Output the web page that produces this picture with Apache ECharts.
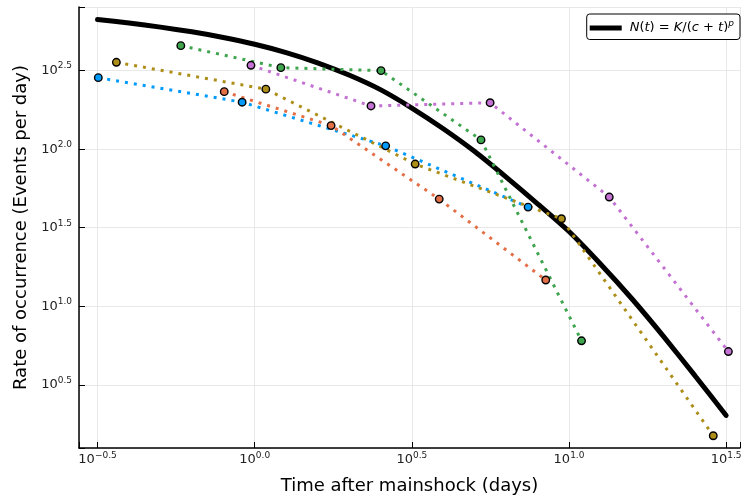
<!DOCTYPE html>
<html><head><meta charset="utf-8">
<script src="https://cdn.jsdelivr.net/npm/echarts@6/dist/echarts.min.js"></script>
<style>html,body{margin:0;padding:0;background:#fff}#c{width:741px;height:497px}</style>
</head><body><div id="c"></div>
<script>
// Omori-law fit curve
const curveT = [0.3162, 0.3981, 0.5012, 0.6310, 0.7943, 1.000, 1.259, 1.585, 1.995, 2.512, 3.162, 3.981, 5.012, 6.310, 7.943, 10.00, 12.59, 15.85, 19.95, 25.12, 31.62];
const curveN = [668.3, 635.3, 598.4, 558.5, 514.0, 465.6, 412.1, 354.8, 296.5, 239.3, 182.8, 134.9, 96.6, 66.4, 44.9, 29.9, 18.6, 11.17, 6.46, 3.63, 2.02];

// observed rates
const blueT   = [0.318, 0.912, 2.61, 7.41];
const blueN   = [285.4, 199.1, 105.0, 42.8];
const orangeT = [0.800, 1.750, 3.864, 8.433];
const orangeN = [232.3, 141.3, 48.1, 14.7];
const greenT  = [0.582, 1.211, 2.523, 5.248, 10.96];
const greenN  = [456.0, 330.4, 316.2, 114.6, 6.03];
const purpleT = [0.973, 2.344, 5.610, 13.43, 32.14];
const purpleN = [342.0, 188.4, 197.7, 49.6, 5.15];
const ochreT  = [0.363, 1.085, 3.240, 9.462, 28.77];
const ochreN  = [357.3, 241.0, 80.4, 36.1, 1.50];

// tick exponents and their labels
const xTickExp = [-0.5, 0, 0.5, 1.0, 1.5];
const xTickLab = ['\u22120.5', '0.0', '0.5', '1.0', '1.5'];
const yTickExp = [0.5, 1.0, 1.5, 2.0, 2.5];
const yTickLab = ['0.5', '1.0', '1.5', '2.0', '2.5'];

const legendName = 'N(t) = K/(c + t)^p';
const FONT = 'DejaVu Sans';

function zip(a, b) { return a.map((v, i) => [v, b[i]]); }
function labFor(exps, labs) {
  return function (v) {
    const e = Math.log10(v);
    for (let i = 0; i < exps.length; i++) {
      if (Math.abs(exps[i] - e) < 0.02) return '{b|10}{s|' + labs[i] + '}';
    }
    return '';
  };
}
const rich = {
  b: { fontSize: 13, fontFamily: FONT, color: '#222' },
  s: { fontSize: 9, fontFamily: FONT, color: '#222', padding: [0, 0, 9, 0] }
};

function dataSeries(t, n, color) {
  return {
    type: 'line', data: zip(t, n), z: 3,
    lineStyle: { color: color, width: 3, type: [3, 6], cap: 'butt' },
    symbol: 'circle', symbolSize: 7.5,
    itemStyle: { color: color, borderColor: '#000', borderWidth: 1.4 },
    emphasis: { disabled: true }, animation: false
  };
}

const chart = echarts.init(document.getElementById('c'), null, { renderer: 'canvas' });
chart.setOption({
  animation: false,
  backgroundColor: '#fff',
  grid: { left: 79, right: 1, top: 7, bottom: 49, containLabel: false, outerBoundsMode: 'none' },
  legend: {
    data: [legendName], right: 1, top: 14,
    backgroundColor: '#fff', borderColor: '#000', borderWidth: 1, borderRadius: 3,
    padding: [5, 6, 5, 3],
    icon: 'rect', itemWidth: 32, itemHeight: 5,
    itemStyle: { color: '#000' },
    formatter: function () {
      return '{i|N}{r|(}{i|t}{r|) = }{i|K}{r|/(}{i|c}{r| + }{i|t}{r|)}{s|p}';
    },
    textStyle: {
      padding: [0, 0, 0, 3],
      rich: {
        i: { fontSize: 13, fontStyle: 'italic', fontFamily: FONT, color: '#000' },
        r: { fontSize: 13, fontFamily: FONT, color: '#000' },
        s: { fontSize: 9, fontStyle: 'italic', fontFamily: FONT, color: '#000', padding: [0, 0, 9, 0] }
      }
    }
  },
  xAxis: {
    type: 'log', logBase: Math.sqrt(10),
    min: Math.pow(10, -0.559), max: Math.pow(10, 1.544),
    name: 'Time after mainshock (days)', nameLocation: 'middle', nameGap: 29,
    nameTextStyle: { fontSize: 18, fontFamily: FONT, color: '#000' },
    axisLine: { show: true, onZero: false, lineStyle: { color: '#000', width: 1.5 } },
    axisTick: { show: true, inside: true, length: 6, lineStyle: { color: '#000', width: 1 } },
    axisLabel: { show: true, margin: 3, formatter: labFor(xTickExp, xTickLab), rich: rich },
    splitLine: { show: true, lineStyle: { color: '#e8e8e8', width: 1 } }
  },
  yAxis: {
    type: 'log', logBase: Math.sqrt(10),
    min: Math.pow(10, 0.098), max: Math.pow(10, 2.905),
    name: 'Rate of occurrence (Events per day)', nameLocation: 'middle', nameGap: 46, nameRotate: 90,
    nameTextStyle: { fontSize: 18, fontFamily: FONT, color: '#000' },
    axisLine: { show: true, onZero: false, lineStyle: { color: '#000', width: 1.5 } },
    axisTick: { show: true, inside: true, length: 6, lineStyle: { color: '#000', width: 1 } },
    axisLabel: { show: true, margin: 7, formatter: labFor(yTickExp, yTickLab), rich: rich },
    splitLine: { show: true, lineStyle: { color: '#e8e8e8', width: 1 } }
  },
  series: [
    {
      name: legendName, type: 'line', data: zip(curveT, curveN), z: 2,
      showSymbol: false, symbol: 'none', smooth: 0.2,
      lineStyle: { color: '#000', width: 5, cap: 'round' },
      itemStyle: { color: '#000' },
      emphasis: { disabled: true }
    },
    dataSeries(blueT, blueN, '#009AFA'),
    dataSeries(orangeT, orangeN, '#E36F47'),
    dataSeries(greenT, greenN, '#3EA44E'),
    dataSeries(purpleT, purpleN, '#C371D2'),
    dataSeries(ochreT, ochreN, '#AC8E18')
  ]
});
</script></body></html>
